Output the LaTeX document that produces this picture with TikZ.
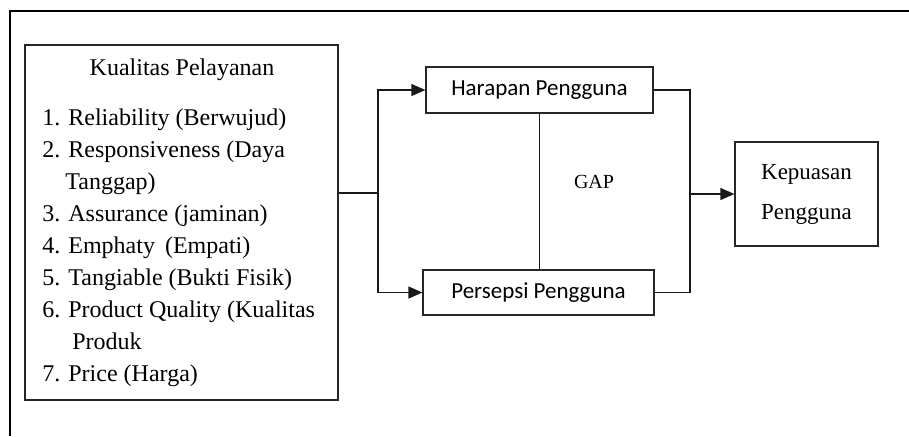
\documentclass[tikz,border=0pt]{standalone}
\usepackage{fontspec}
\setmainfont{Liberation Serif}
\newfontfamily\calibri{Carlito}
\usetikzlibrary{arrows.meta, positioning}

\begin{document}
\begin{tikzpicture}[x=0.5pt, y=-0.5pt,
    box/.style={draw=black!85, line width=0.6pt, inner sep=0pt},
    item/.style={anchor=base west, inner sep=0pt, font=\fontsize{12}{14}\selectfont},
    arrow/.style={-{Triangle[length=7pt,width=6pt]}, line width=0.6pt, color=black!90},
    link/.style={line width=0.6pt, color=black!90}
  ]
  \useasboundingbox (0,0) rectangle (909,436);
  % outer frame, open to the right and bottom
  \draw[line width=1pt] (10,436) -- (10,11) -- (909,11);

  \node[box, minimum width=156.5pt, minimum height=177.5pt] (kualitas) at (181.5,222.5) {};
  \node[anchor=base, inner sep=0pt, font=\fontsize{12}{14}\selectfont] (judul) at (182,75) {Kualitas Pelayanan};
  \foreach \x/\txt [count=\k from 0] in {
      42/1. Reliability (Berwujud),
      42/2. Responsiveness (Daya,
      65/Tanggap),
      42/3. Assurance (jaminan),
      42/4. Emphaty\hspace{2pt} (Empati),
      42/5. Tangiable (Bukti Fisik),
      42/6. Product Quality (Kualitas,
      72/Produk,
      42/7. Price (Harga)} {
      \node[item] (item\k) at (\x, 125+32*\k) {\txt};
    }

  \node[box, font=\calibri\fontsize{11.5}{14}\selectfont, minimum width=113.5pt, minimum height=23pt] (harapan) at (539.5,90) {Harapan Pengguna};
  \node[box, font=\calibri\fontsize{11.5}{14}\selectfont, minimum width=115.5pt, minimum height=22.5pt] (persepsi) at (538.5,292.5) {Persepsi Pengguna};
  \node[box, align=center, font=\fontsize{11.5}{20}\selectfont, minimum width=71.5pt, minimum height=52pt] (kepuasan) at (806.5,194) {Kepuasan\\Pengguna};
  \node[font=\fontsize{10}{12}\selectfont] (gap) at (594,182) {GAP};

  \coordinate (split) at (378,193);
  \coordinate (join) at (690,194);
  \draw[link] (kualitas.east |- split) -- (split);
  \draw[arrow] (split) |- (harapan.west);
  \draw[arrow] (split) |- (persepsi.west);
  \draw[link] (harapan.east) -| (join) |- (persepsi.east);
  \draw[arrow] (join) -- (kepuasan.west);
  \draw[link] (harapan.south) -- (persepsi.north -| harapan.south);
\end{tikzpicture}
\end{document}
